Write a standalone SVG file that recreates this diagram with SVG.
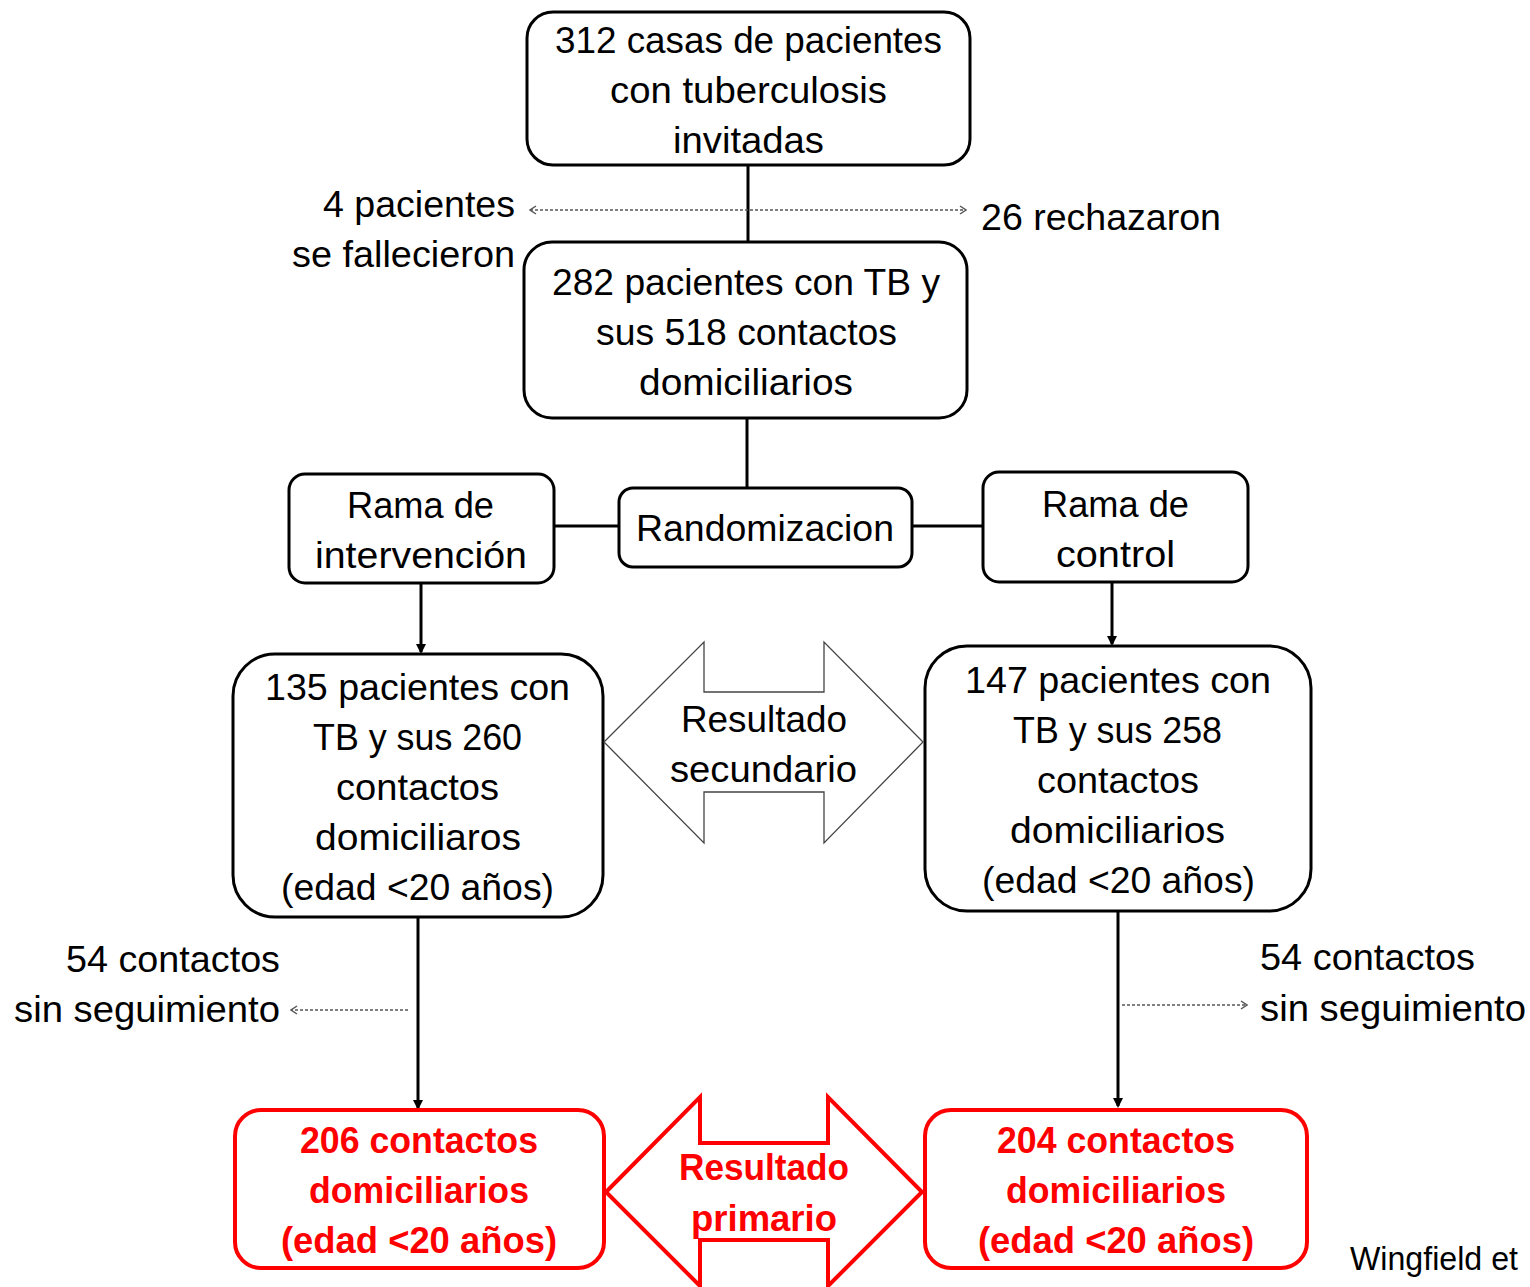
<svg xmlns="http://www.w3.org/2000/svg" width="1530" height="1287" viewBox="0 0 1530 1287">
<defs>
<style>
.t{font-family:"Liberation Sans",Arial,sans-serif;font-size:36px;fill:#000}
.r{font-family:"Liberation Sans",Arial,sans-serif;font-size:36px;font-weight:bold;fill:#ff0000}
.box{fill:#fff;stroke:#000;stroke-width:3}
.rbox{fill:#fff;stroke:#ff0000;stroke-width:4}
.line{stroke:#000;stroke-width:3;fill:none}
.dot{stroke:#555;stroke-width:1.5;stroke-dasharray:3 2;fill:none}
</style>
<marker id="ah" markerWidth="10" markerHeight="10" refX="8" refY="5" orient="auto" markerUnits="userSpaceOnUse">
<path d="M0,0 L10,5 L0,10 Z" fill="#000"/>
</marker>
<marker id="oh" markerWidth="8" markerHeight="10" refX="7" refY="5" orient="auto-start-reverse" markerUnits="userSpaceOnUse">
<path d="M1,1 L7,5 L1,9" fill="none" stroke="#555" stroke-width="1.5"/>
</marker>
</defs>
<rect width="1530" height="1287" fill="#fff"/>

<g id="connectors">
<line class="line" x1="748" y1="165" x2="748" y2="242"/>
<line class="dot" x1="530" y1="210" x2="966" y2="210" marker-start="url(#oh)" marker-end="url(#oh)"/>
<line class="line" x1="747" y1="418" x2="747" y2="488"/>
<line class="line" x1="554" y1="526" x2="619" y2="526"/>
<line class="line" x1="912" y1="526" x2="983" y2="526"/>
<line class="line" x1="421" y1="583" x2="421" y2="652" marker-end="url(#ah)"/>
<line class="line" x1="1112" y1="582" x2="1112" y2="644" marker-end="url(#ah)"/>
<line class="line" x1="418" y1="917" x2="418" y2="1108" marker-end="url(#ah)"/>
<line class="dot" x1="408" y1="1010" x2="291" y2="1010" marker-end="url(#oh)"/>
<line class="line" x1="1118" y1="911" x2="1118" y2="1106" marker-end="url(#ah)"/>
<line class="dot" x1="1122" y1="1005" x2="1247" y2="1005" marker-end="url(#oh)"/>
</g>

<g id="n-casas">
<rect class="box" x="527" y="12" width="443" height="153" rx="26"/>
<text class="t" x="555" y="53" textLength="387" lengthAdjust="spacingAndGlyphs">312 casas de pacientes</text>
<text class="t" x="610" y="103" textLength="277" lengthAdjust="spacingAndGlyphs">con tuberculosis</text>
<text class="t" x="673" y="153" textLength="151" lengthAdjust="spacingAndGlyphs">invitadas</text>
</g>

<g id="n-fallecieron">
<text class="t" x="323" y="217" textLength="192" lengthAdjust="spacingAndGlyphs">4 pacientes</text>
<text class="t" x="292" y="267" textLength="223" lengthAdjust="spacingAndGlyphs">se fallecieron</text>
</g>

<g id="n-rechazaron">
<text class="t" x="981" y="230" textLength="240" lengthAdjust="spacingAndGlyphs">26 rechazaron</text>
</g>

<g id="n-282">
<rect class="box" x="524" y="242" width="443" height="176" rx="28"/>
<text class="t" x="552" y="295" textLength="388" lengthAdjust="spacingAndGlyphs">282 pacientes con TB y</text>
<text class="t" x="596" y="345" textLength="301" lengthAdjust="spacingAndGlyphs">sus 518 contactos</text>
<text class="t" x="639" y="395" textLength="214" lengthAdjust="spacingAndGlyphs">domiciliarios</text>
</g>

<g id="n-random">
<rect class="box" x="619" y="488" width="293" height="79" rx="14"/>
<text class="t" x="636" y="541" textLength="258" lengthAdjust="spacingAndGlyphs">Randomizacion</text>
</g>

<g id="n-rama-int">
<rect class="box" x="289" y="474" width="265" height="109" rx="16"/>
<text class="t" x="347" y="518" textLength="147" lengthAdjust="spacingAndGlyphs">Rama de</text>
<text class="t" x="315" y="568" textLength="212" lengthAdjust="spacingAndGlyphs">intervención</text>
</g>

<g id="n-rama-ctrl">
<rect class="box" x="983" y="472" width="265" height="110" rx="16"/>
<text class="t" x="1042" y="517" textLength="147" lengthAdjust="spacingAndGlyphs">Rama de</text>
<text class="t" x="1056" y="567" textLength="119" lengthAdjust="spacingAndGlyphs">control</text>
</g>

<g id="n-135">
<rect class="box" x="233" y="654" width="370" height="263" rx="42"/>
<text class="t" x="265" y="700" textLength="305" lengthAdjust="spacingAndGlyphs">135 pacientes con</text>
<text class="t" x="313" y="750" textLength="209" lengthAdjust="spacingAndGlyphs">TB y sus 260</text>
<text class="t" x="336" y="800" textLength="163" lengthAdjust="spacingAndGlyphs">contactos</text>
<text class="t" x="315" y="850" textLength="206" lengthAdjust="spacingAndGlyphs">domiciliaros</text>
<text class="t" x="281" y="900" textLength="273" lengthAdjust="spacingAndGlyphs">(edad &lt;20 años)</text>
</g>

<g id="n-147">
<rect class="box" x="925" y="646" width="386" height="265" rx="42"/>
<text class="t" x="965" y="693" textLength="306" lengthAdjust="spacingAndGlyphs">147 pacientes con</text>
<text class="t" x="1013" y="743" textLength="209" lengthAdjust="spacingAndGlyphs">TB y sus 258</text>
<text class="t" x="1037" y="793" textLength="162" lengthAdjust="spacingAndGlyphs">contactos</text>
<text class="t" x="1010" y="843" textLength="215" lengthAdjust="spacingAndGlyphs">domiciliarios</text>
<text class="t" x="982" y="893" textLength="273" lengthAdjust="spacingAndGlyphs">(edad &lt;20 años)</text>
</g>

<g id="n-secundario">
<path d="M604,742 L704,642 L704,692 L824,692 L824,642 L923,742 L824,843 L824,792 L704,792 L704,843 Z" fill="#fff" stroke="#444" stroke-width="1.3"/>
<text class="t" x="681" y="732" textLength="166" lengthAdjust="spacingAndGlyphs">Resultado</text>
<text class="t" x="670" y="782" textLength="187" lengthAdjust="spacingAndGlyphs">secundario</text>
</g>

<g id="n-sinseg-left">
<text class="t" x="66" y="972" textLength="214" lengthAdjust="spacingAndGlyphs">54 contactos</text>
<text class="t" x="14" y="1022" textLength="266" lengthAdjust="spacingAndGlyphs">sin seguimiento</text>
</g>

<g id="n-sinseg-right">
<text class="t" x="1260" y="970" textLength="215" lengthAdjust="spacingAndGlyphs">54 contactos</text>
<text class="t" x="1260" y="1021" textLength="266" lengthAdjust="spacingAndGlyphs">sin seguimiento</text>
</g>

<g id="n-206">
<rect class="rbox" x="235" y="1110" width="369" height="158" rx="26"/>
<text class="r" x="300" y="1153" textLength="238" lengthAdjust="spacingAndGlyphs">206 contactos</text>
<text class="r" x="309" y="1203" textLength="220" lengthAdjust="spacingAndGlyphs">domiciliarios</text>
<text class="r" x="281" y="1253" textLength="276" lengthAdjust="spacingAndGlyphs">(edad &lt;20 años)</text>
</g>

<g id="n-204">
<rect class="rbox" x="925" y="1110" width="382" height="158" rx="26"/>
<text class="r" x="997" y="1153" textLength="238" lengthAdjust="spacingAndGlyphs">204 contactos</text>
<text class="r" x="1006" y="1203" textLength="220" lengthAdjust="spacingAndGlyphs">domiciliarios</text>
<text class="r" x="978" y="1253" textLength="276" lengthAdjust="spacingAndGlyphs">(edad &lt;20 años)</text>
</g>

<g id="n-primario">
<path d="M606,1192 L700,1097 L700,1143 L828,1143 L828,1097 L922,1192 L828,1286 L828,1240 L700,1240 L700,1286 Z" fill="#fff" stroke="#ff0000" stroke-width="4" stroke-linejoin="miter"/>
<text class="r" x="679" y="1180" textLength="170" lengthAdjust="spacingAndGlyphs">Resultado</text>
<text class="r" x="691" y="1231" textLength="146" lengthAdjust="spacingAndGlyphs">primario</text>
</g>

<g id="n-cite">
<text class="t" x="1350" y="1270" style="font-size:33px" textLength="168" lengthAdjust="spacingAndGlyphs">Wingfield et</text>
</g>
</svg>
